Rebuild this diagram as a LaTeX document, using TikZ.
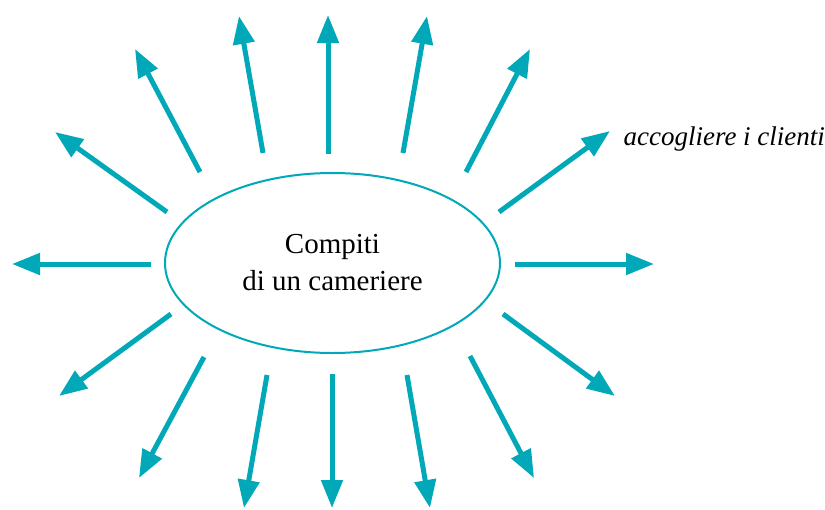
\documentclass[tikz,border=0pt]{standalone}
\usepackage{fontspec}
\setmainfont{Liberation Serif}
\usetikzlibrary{arrows.meta,shapes.geometric}
\definecolor{teal}{RGB}{0,168,184}

\begin{document}
\begin{tikzpicture}[x=1pt,y=-1pt,
  arrow/.style={teal,line width=5pt,-{Triangle[length=28pt,width=21pt]}},
  task/.style={font=\fontsize{27}{32}\selectfont\itshape}]
\useasboundingbox (0,0) rectangle (825,509);
\node[ellipse,draw=teal,line width=2pt,minimum width=335pt,minimum height=180pt,
  align=center,font=\fontsize{29}{37}\selectfont] (compiti) at (332.5,263)
  {Compiti\\di un cameriere};
\foreach \n/\sx/\sy/\ex/\ey in {
  1/328/154/328/15, 2/403/153/427/16, 3/466/172/530/49, 4/499/212/610/131,
  5/515/264/654/264, 6/503/314/615/396, 7/470/356/534/478, 8/407/375/430/508,
  9/332/374/332/508, 10/267/375/244/508, 11/204/357/139/478, 12/171/314/59/396,
  13/151/264/12/264, 14/167/212/55/132, 15/200/172/135/49, 16/263/153/239/16}{
  \coordinate (s\n) at (\sx,\sy);
  \coordinate (e\n) at (\ex,\ey);
  \draw[arrow] (s\n) -- (e\n);
}
\node[task,anchor=base west] (accogliere) at (620,145) {accogliere i clienti};
\end{tikzpicture}
\end{document}
